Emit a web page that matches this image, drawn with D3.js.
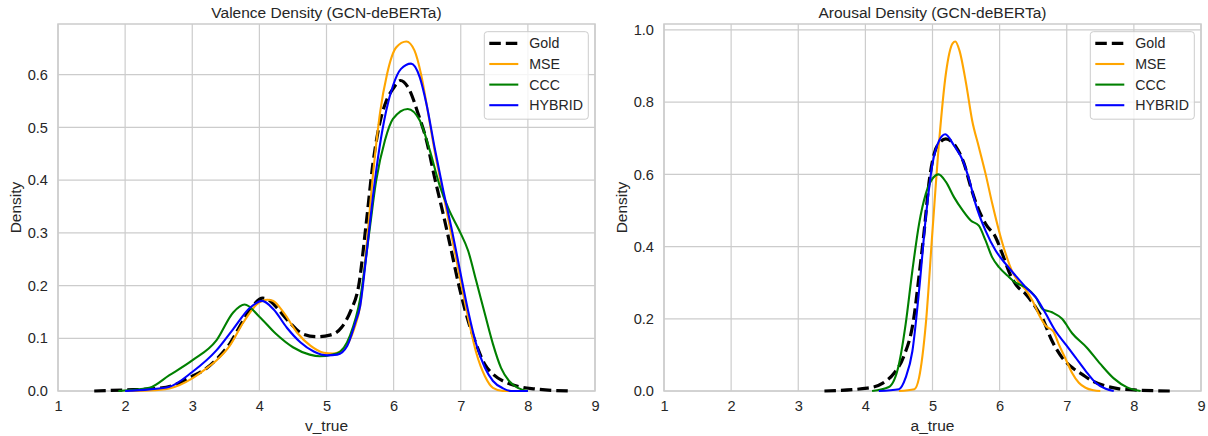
<!DOCTYPE html>
<meta charset="utf-8">
<style>
  body { margin: 0; background: #fff; }
  text { font-family: "Liberation Sans", Arial, sans-serif; fill: #262626; }
  .grid line { stroke: #cccccc; stroke-width: 1.2px; }
  .frame { fill: none; stroke: #cccccc; stroke-width: 1.5px; }
  .kde { fill: none; stroke-linejoin: round; }
</style>

<body>
  <script src="https://cdn.jsdelivr.net/npm/d3@7"></script>
  <script>

    // ---- data (x, density) ----
    var xTicks = [1, 2, 3, 4, 5, 6, 7, 8, 9];
    var valenceYTicks = [0, 0.1, 0.2, 0.3, 0.4, 0.5, 0.6];
    var arousalYTicks = [0, 0.2, 0.4, 0.6, 0.8, 1.0];
    var seriesNames = ["Gold", "MSE", "CCC", "HYBRID"];
    var seriesColors = ["#000000", "#ffa500", "#008000", "#0000ff"];

    var valenceGold = [[1.54, 0], [2.0, 0.002], [2.4, 0.004], [2.7, 0.01], [3.0, 0.028], [3.2, 0.042], [3.36, 0.06],
      [3.56, 0.09], [3.76, 0.134], [3.91, 0.163], [4.05, 0.176], [4.15, 0.172], [4.26, 0.158], [4.45, 0.13],
      [4.65, 0.108], [4.85, 0.103], [5.05, 0.106], [5.22, 0.12], [5.36, 0.152], [5.48, 0.2], [5.59, 0.316],
      [5.69, 0.43], [5.79, 0.506], [5.89, 0.55], [5.99, 0.573], [6.1, 0.589], [6.24, 0.57], [6.36, 0.528],
      [6.49, 0.475], [6.61, 0.405], [6.74, 0.335], [6.86, 0.266], [6.98, 0.196], [7.11, 0.133], [7.23, 0.089],
      [7.36, 0.05], [7.48, 0.032], [7.68, 0.016], [7.88, 0.008], [8.1, 0.004], [8.62, 0]];
    var valenceMSE = [[2.0, 0], [2.36, 0.001], [2.66, 0.005], [3.0, 0.024], [3.2, 0.042], [3.36, 0.058], [3.56, 0.086],
      [3.76, 0.13], [3.96, 0.164], [4.12, 0.173], [4.2, 0.171], [4.36, 0.149], [4.56, 0.111], [4.76, 0.086],
      [4.96, 0.0725], [5.09, 0.071], [5.26, 0.08], [5.41, 0.1175], [5.5, 0.16], [5.6, 0.28], [5.7, 0.42],
      [5.8, 0.53], [5.9, 0.6], [6.04, 0.652], [6.19, 0.663], [6.31, 0.646], [6.41, 0.6], [6.51, 0.53],
      [6.61, 0.456], [6.74, 0.373], [6.86, 0.297], [6.98, 0.22], [7.11, 0.139], [7.23, 0.073], [7.36, 0.028],
      [7.48, 0.006], [7.63, 0], [8.0, 0]];
    var valenceCCC = [[1.9, 0], [2.36, 0.006], [2.66, 0.03], [3.0, 0.058], [3.36, 0.096], [3.61, 0.149], [3.78, 0.164],
      [4.0, 0.141], [4.25, 0.108], [4.5, 0.083], [4.75, 0.069], [4.9, 0.066], [5.15, 0.071], [5.35, 0.105],
      [5.5, 0.174], [5.64, 0.304], [5.74, 0.399], [5.87, 0.475], [5.99, 0.516], [6.21, 0.535], [6.39, 0.513],
      [6.54, 0.456], [6.68, 0.392], [6.83, 0.342], [6.98, 0.304], [7.11, 0.266], [7.23, 0.209], [7.36, 0.146],
      [7.48, 0.089], [7.6, 0.044], [7.72, 0.019], [7.85, 0.006], [8.0, 0]];
    var valenceHybrid = [[2.0, 0], [2.36, 0.003], [2.66, 0.008], [3.0, 0.036], [3.36, 0.077], [3.61, 0.1175],
      [3.86, 0.158], [4.04, 0.171], [4.21, 0.155], [4.41, 0.12], [4.61, 0.0925], [4.81, 0.075], [5.01, 0.0675],
      [5.16, 0.069], [5.31, 0.086], [5.43, 0.13], [5.5, 0.16], [5.59, 0.253], [5.69, 0.367], [5.79, 0.462],
      [5.89, 0.532], [5.99, 0.579], [6.11, 0.611], [6.26, 0.621], [6.39, 0.595], [6.49, 0.544], [6.61, 0.462],
      [6.74, 0.38], [6.86, 0.31], [6.98, 0.234], [7.11, 0.152], [7.23, 0.089], [7.36, 0.044], [7.48, 0.019],
      [7.63, 0.005], [7.75, 0], [8.0, 0]];

    var arousalGold = [[3.39, 0], [4.03, 0.008], [4.26, 0.022], [4.43, 0.05], [4.57, 0.095], [4.72, 0.2], [4.8, 0.32],
      [4.88, 0.45], [4.95, 0.58], [5.03, 0.66], [5.12, 0.69], [5.2, 0.698], [5.35, 0.676], [5.47, 0.63],
      [5.57, 0.565], [5.67, 0.51], [5.79, 0.463], [5.94, 0.426], [6.04, 0.38], [6.14, 0.33], [6.24, 0.295],
      [6.39, 0.268], [6.54, 0.231], [6.64, 0.2], [6.78, 0.139], [6.93, 0.093], [7.08, 0.065], [7.23, 0.046],
      [7.38, 0.028], [7.58, 0.014], [7.78, 0.006], [8.0, 0.003], [8.55, 0]];
    var arousalMSE = [[4.5, 0], [4.73, 0.005], [4.8, 0.037], [4.9, 0.185], [5.0, 0.444], [5.1, 0.694], [5.2, 0.88],
      [5.3, 0.963], [5.34, 0.968], [5.4, 0.944], [5.5, 0.852], [5.59, 0.75], [5.69, 0.676], [5.79, 0.602],
      [5.89, 0.519], [5.99, 0.444], [6.09, 0.38], [6.19, 0.33], [6.29, 0.3], [6.39, 0.28], [6.49, 0.25],
      [6.59, 0.21], [6.69, 0.18], [6.8, 0.165], [6.88, 0.13], [6.98, 0.09], [7.08, 0.05], [7.18, 0.023],
      [7.28, 0.009], [7.4, 0.002], [7.5, 0]];
    var arousalCCC = [[4.1, 0], [4.35, 0.011], [4.5, 0.074], [4.6, 0.185], [4.7, 0.333], [4.8, 0.463], [4.9, 0.546],
      [5.0, 0.588], [5.09, 0.6], [5.2, 0.579], [5.32, 0.537], [5.45, 0.5], [5.57, 0.472], [5.69, 0.458],
      [5.79, 0.417], [5.89, 0.37], [5.99, 0.343], [6.12, 0.319], [6.24, 0.3], [6.39, 0.287], [6.54, 0.259],
      [6.64, 0.227], [6.78, 0.218], [6.93, 0.2], [7.08, 0.16], [7.3, 0.12], [7.5, 0.075], [7.7, 0.035],
      [7.9, 0.01], [8.1, 0]];
    var arousalHybrid = [[4.2, 0], [4.5, 0.005], [4.6, 0.037], [4.7, 0.11], [4.8, 0.278], [4.9, 0.48], [5.0, 0.63],
      [5.1, 0.694], [5.19, 0.711], [5.32, 0.68], [5.45, 0.639], [5.55, 0.583], [5.64, 0.519], [5.79, 0.444],
      [5.94, 0.389], [6.09, 0.352], [6.24, 0.319], [6.39, 0.287], [6.54, 0.259], [6.69, 0.213], [6.83, 0.167],
      [6.98, 0.13], [7.13, 0.093], [7.28, 0.056], [7.43, 0.023], [7.58, 0.006], [7.7, 0]];

    var panels = [
      { title: "Valence Density (GCN-deBERTa)", xlabel: "v_true", left: 58, right: 595, labelX: 21,
        yTicks: valenceYTicks, series: [valenceGold, valenceMSE, valenceCCC, valenceHybrid] },
      { title: "Arousal Density (GCN-deBERTa)", xlabel: "a_true", left: 664, right: 1201, labelX: 627,
        yTicks: arousalYTicks, series: [arousalGold, arousalMSE, arousalCCC, arousalHybrid] }
    ];

    var plotTop = 24, plotBottom = 391;

    var svg = d3.select("body").append("svg")
      .attr("width", 1208)
      .attr("height", 436);

    panels.forEach(function (p, pi) {
      var ymax = d3.max(p.series, function (s) { return d3.max(s, function (d) { return d[1]; }); }) * 1.05;

      var x = d3.scaleLinear().domain([1, 9]).range([p.left, p.right]);
      var y = d3.scaleLinear().domain([0, ymax]).range([plotBottom, plotTop]);

      var g = svg.append("g");

      // grid
      var grid = g.append("g").attr("class", "grid");
      grid.selectAll(".gx").data(xTicks).enter().append("line")
        .attr("x1", x).attr("x2", x).attr("y1", plotTop).attr("y2", plotBottom);
      grid.selectAll(".gy").data(p.yTicks).enter().append("line")
        .attr("x1", p.left).attr("x2", p.right).attr("y1", y).attr("y2", y);

      g.append("rect").attr("class", "frame")
        .attr("x", p.left).attr("y", plotTop)
        .attr("width", p.right - p.left).attr("height", plotBottom - plotTop);

      // axes (labels only)
      var xAxis = g.append("g")
        .attr("transform", "translate(0," + plotBottom + ")")
        .call(d3.axisBottom(x).tickValues(xTicks).tickSize(0).tickPadding(10).tickFormat(d3.format("d")));
      var yAxis = g.append("g")
        .attr("transform", "translate(" + p.left + ",0)")
        .call(d3.axisLeft(y).tickValues(p.yTicks).tickSize(0).tickPadding(10).tickFormat(d3.format(".1f")));
      [xAxis, yAxis].forEach(function (a) {
        a.select(".domain").remove();
        a.attr("font-family", null).attr("font-size", null);
        a.selectAll("text").style("font-size", "14.6px").attr("fill", "#262626");
      });

      // curves
      var clipId = "clip" + pi;
      g.append("clipPath").attr("id", clipId).append("rect")
        .attr("x", p.left).attr("y", plotTop).attr("width", p.right - p.left).attr("height", plotBottom - plotTop + 2);

      var line = d3.line()
        .x(function (d) { return x(d[0]); })
        .y(function (d) { return y(d[1]); })
        .curve(d3.curveMonotoneX);

      g.append("g").attr("clip-path", "url(#" + clipId + ")")
        .selectAll("path").data(p.series).enter().append("path")
        .attr("class", "kde")
        .attr("d", line)
        .attr("stroke", function (d, i) { return seriesColors[i]; })
        .attr("stroke-width", function (d, i) { return i === 0 ? 3.2 : 2.1; })
        .attr("stroke-dasharray", function (d, i) { return i === 0 ? "11.5,5" : null; });

      // titles
      g.append("text")
        .attr("x", (p.left + p.right) / 2).attr("y", 18)
        .attr("text-anchor", "middle").style("font-size", "15.5px")
        .text(p.title);
      g.append("text")
        .attr("x", (p.left + p.right) / 2).attr("y", 431)
        .attr("text-anchor", "middle").style("font-size", "15.5px")
        .text(p.xlabel);
      g.append("text")
        .attr("transform", "translate(" + p.labelX + "," + (plotTop + plotBottom) / 2 + ") rotate(-90)")
        .attr("text-anchor", "middle").style("font-size", "15.5px")
        .text("Density");

      // legend
      var lx = p.right - 6.7 - 104, ly = 31.7;
      var leg = g.append("g");
      leg.append("rect")
        .attr("x", lx).attr("y", ly).attr("width", 104).attr("height", 87.5)
        .attr("rx", 3).attr("fill", "#fff").attr("fill-opacity", 0.8)
        .attr("stroke", "#cccccc").attr("stroke-width", 1);
      var rows = leg.selectAll(".row").data(seriesNames).enter().append("g")
        .attr("transform", function (d, i) { return "translate(" + lx + "," + (ly + 11.7 + i * 20.6) + ")"; });
      rows.append("line")
        .attr("x1", 5).attr("x2", 34).attr("y1", 0).attr("y2", 0)
        .attr("stroke", function (d, i) { return seriesColors[i]; })
        .attr("stroke-width", function (d, i) { return i === 0 ? 3.2 : 2.1; })
        .attr("stroke-dasharray", function (d, i) { return i === 0 ? "11.5,5" : null; });
      rows.append("text")
        .attr("x", 45).attr("y", 0).attr("dy", "0.35em")
        .style("font-size", "14.2px")
        .text(function (d) { return d; });
    });

  </script>
</body>

</html>
